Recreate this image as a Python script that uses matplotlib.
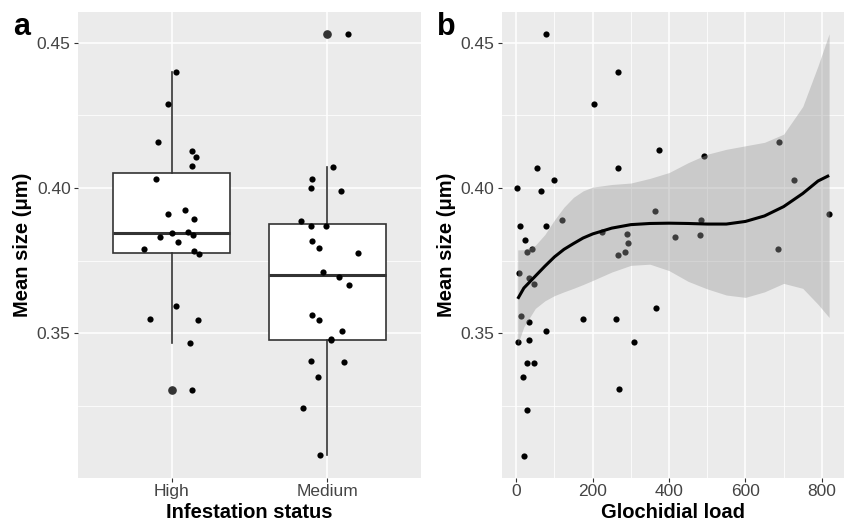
import numpy as np
import matplotlib
matplotlib.use("Agg")
import matplotlib.pyplot as plt

plt.rcParams['font.family'] = ['Liberation Sans', 'DejaVu Sans']

# ---------------- Panel a data ----------------
categories = ["High", "Medium"]
high_size = [0.4399, 0.4288, 0.4157, 0.4127, 0.4108, 0.4074, 0.4030, 0.3911,
             0.3925, 0.3892, 0.3845, 0.3850, 0.3838, 0.3830, 0.3813, 0.3791,
             0.3782, 0.3773, 0.3593, 0.3548, 0.3547, 0.3467, 0.3307]
high_jitter = [0.030, -0.021, -0.090, 0.129, 0.155, 0.129, -0.101, -0.021,
               0.084, 0.144, 0.005, 0.105, 0.137, -0.077, 0.043, -0.178,
               0.146, 0.174, 0.028, -0.140, 0.169, 0.120, 0.133]
medium_size = [0.4529, 0.4071, 0.4030, 0.4001, 0.3989, 0.3888, 0.3871, 0.3871,
               0.3819, 0.3793, 0.3778, 0.3711, 0.3693, 0.3667, 0.3562, 0.3546,
               0.3507, 0.3476, 0.3480, 0.3405, 0.3401, 0.3349, 0.3245, 0.3081]
medium_jitter = [0.131, 0.035, -0.097, -0.105, 0.086, -0.169, -0.107, -0.010,
                 -0.097, -0.052, 0.200, -0.026, 0.073, 0.138, -0.100, -0.053,
                 0.093, 0.026, 0.026, -0.105, 0.108, -0.062, -0.155, -0.049]

# ---------------- Panel b data ----------------
glochidial_load = [78, 267, 203, 374, 492, 687, 55, 266, 99, 3, 64, 728, 819,
                   363, 119, 10, 79, 483, 225, 291, 416, 481, 22, 292, 686,
                   42, 29, 285, 266, 7, 33, 47, 12, 33, 174, 262, 365, 79, 5,
                   33, 308, 28, 46, 17, 270, 29, 21]
mean_size = [0.4530, 0.4400, 0.4289, 0.4129, 0.4110, 0.4159, 0.4070, 0.4070,
             0.4029, 0.4000, 0.3989, 0.4029, 0.3910, 0.3920, 0.3889, 0.3870,
             0.3870, 0.3889, 0.3850, 0.3841, 0.3830, 0.3840, 0.3820, 0.3810,
             0.3790, 0.3790, 0.3781, 0.3781, 0.3771, 0.3709, 0.3689, 0.3669,
             0.3560, 0.3539, 0.3549, 0.3549, 0.3588, 0.3509, 0.3469, 0.3479,
             0.3469, 0.3399, 0.3399, 0.3349, 0.3309, 0.3238, 0.3077]

# loess smooth
smooth_x = [4, 20, 50, 75, 100, 125, 150, 175, 200, 250, 300, 350, 400, 450,
            500, 550, 600, 650, 700, 750, 790, 819]
smooth_fit = [0.3619, 0.3656, 0.3697, 0.3731, 0.3763, 0.3789, 0.3809, 0.3828,
              0.3842, 0.3862, 0.3874, 0.3878, 0.3879, 0.3878, 0.3876, 0.3876,
              0.3885, 0.3904, 0.3936, 0.3981, 0.4024, 0.4043]
smooth_upper = [0.3787, 0.3788, 0.3803, 0.3840, 0.3890, 0.3934, 0.3968, 0.3990,
                0.4003, 0.4012, 0.4017, 0.4033, 0.4053, 0.4087, 0.4116, 0.4133,
                0.4145, 0.4157, 0.4185, 0.4280, 0.4420, 0.4530]
smooth_lower = [0.3463, 0.3523, 0.3586, 0.3612, 0.3630, 0.3643, 0.3655, 0.3668,
                0.3682, 0.3711, 0.3734, 0.3738, 0.3716, 0.3679, 0.3653, 0.3632,
                0.3624, 0.3643, 0.3672, 0.3655, 0.3600, 0.3555]

y_ticks = [0.35, 0.40, 0.45]
y_tick_labels = ["0.35", "0.40", "0.45"]
y_minor = [0.325, 0.375, 0.425]
x_ticks_b = [0, 200, 400, 600, 800]
x_minor_b = [100, 300, 500, 700]

# ---------------- Figure ----------------
W, H = 844, 522
fig = plt.figure(figsize=(W / 100, H / 100), dpi=100)
bottom = (H - 477.7) / H
height = 465.4 / H
axa = fig.add_axes([78.3 / W, bottom, 342.4 / W, height])
axb = fig.add_axes([501.7 / W, bottom, 342.3 / W, height])

PANEL_BG = "#EBEBEB"
TICK_COL = "#333333"
TEXT_COL = "#444444"
PT_SIZE = 20


def style(ax):
    ax.set_facecolor(PANEL_BG)
    for sp in ax.spines.values():
        sp.set_visible(False)
    ax.set_axisbelow(True)
    ax.grid(which="major", color="white", linewidth=1.1)
    ax.grid(which="minor", color="white", linewidth=0.55)
    ax.tick_params(which="major", length=3, width=0.8, color=TICK_COL,
                   labelsize=12.5, labelcolor=TEXT_COL)
    ax.tick_params(axis="y", which="major", pad=2.5)
    ax.tick_params(axis="x", which="major", pad=1.5)
    ax.tick_params(which="minor", length=0)
    ax.set_ylim(0.3004, 0.4604)
    ax.set_yticks(y_ticks)
    ax.set_yticklabels(y_tick_labels)
    ax.set_yticks(y_minor, minor=True)


# ----- panel a -----
style(axa)
positions = [1, 2]
bp = axa.boxplot([high_size, medium_size], positions=positions, widths=0.75,
                 whis=1.5, patch_artist=True, showcaps=False,
                 boxprops=dict(facecolor="white", edgecolor=TICK_COL, linewidth=1.2),
                 medianprops=dict(color=TICK_COL, linewidth=2.2),
                 whiskerprops=dict(color=TICK_COL, linewidth=1.2),
                 flierprops=dict(marker="o", markerfacecolor=TICK_COL,
                                 markeredgecolor=TICK_COL, markersize=5.2),
                 zorder=2)
axa.scatter(positions[0] + np.array(high_jitter), high_size, s=PT_SIZE,
            color="black", linewidths=0, zorder=4)
axa.scatter(positions[1] + np.array(medium_jitter), medium_size, s=PT_SIZE,
            color="black", linewidths=0, zorder=4)
axa.set_xlim(0.4, 2.6)
axa.set_xticks(positions)
axa.set_xticklabels(categories)
axa.grid(axis="x", which="minor", visible=False)

axa.set_xlabel("Infestation status", fontsize=14.5, fontweight="bold", color="black")
axa.xaxis.set_label_coords(0.5, (477.7 - 513) / 465.4)
axa.xaxis.label.set_va("center")
axa.set_ylabel("Mean size (μm)", fontsize=14.5, fontweight="bold", color="black")
axa.yaxis.label.set_va("center")
axa.yaxis.set_label_coords((23 - 78.3) / 342.4, 0.5)

# ----- panel b -----
style(axb)
axb.scatter(glochidial_load, mean_size, s=PT_SIZE, color="black", linewidths=0, zorder=2)
axb.fill_between(smooth_x, smooth_lower, smooth_upper, color="#999999",
                 alpha=0.4, linewidth=0, zorder=3)
axb.plot(smooth_x, smooth_fit, color="black", linewidth=2.2, zorder=4,
         solid_capstyle="butt", solid_joinstyle="round")
axb.set_xlim(-38, 858)
axb.set_xticks(x_ticks_b)
axb.set_xticks(x_minor_b, minor=True)

axb.set_xlabel("Glochidial load", fontsize=14.5, fontweight="bold", color="black")
axb.xaxis.set_label_coords(0.5, (477.7 - 513) / 465.4)
axb.xaxis.label.set_va("center")
axb.set_ylabel("Mean size (μm)", fontsize=14.5, fontweight="bold", color="black")
axb.yaxis.label.set_va("center")
axb.yaxis.set_label_coords((447 - 501.7) / 342.3, 0.5)

# panel tags
fig.text(13 / W, 1 - 35 / H, "a", fontsize=22, fontweight="bold",
         ha="left", va="baseline")
fig.text(437 / W, 1 - 35 / H, "b", fontsize=22, fontweight="bold",
         ha="left", va="baseline")

fig.savefig("out.png", dpi=100)
